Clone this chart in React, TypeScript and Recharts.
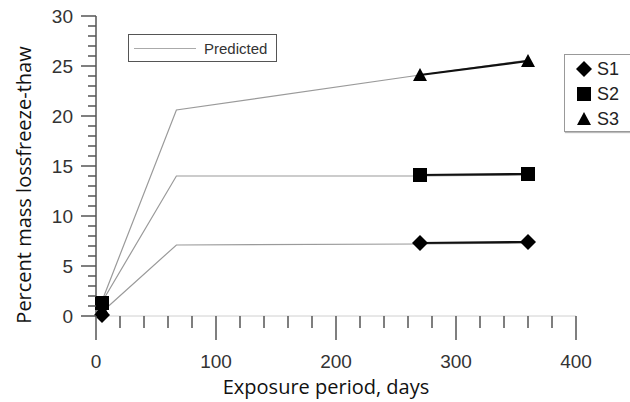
import React from 'react';
import { LineChart, Line, XAxis, YAxis } from 'recharts';

// exposure period (days) for the predicted curves
const predDays = [5, 67, 270, 360];
const predS1 = [0.4, 7.1, 7.2, 7.3];
const predS2 = [1.4, 14.0, 14.0, 14.1];
const predS3 = [1.5, 20.6, 24.1, 25.6];

// measured points
const firstDay = [5];
const lateDays = [270, 360];
const measS1First = [0.1];
const measS2First = [1.3];
const measS3First = [0.7];
const measS1Late = [7.3, 7.4];
const measS2Late = [14.1, 14.2];
const measS3Late = [24.1, 25.5];

const xTicks = [0, 20, 40, 60, 80, 100, 120, 140, 160, 180, 200, 220, 240, 260, 280, 300, 320, 340, 360, 380, 400];
const yTicks = [0, 1, 2, 3, 4, 5, 6, 7, 8, 9, 10, 11, 12, 13, 14, 15, 16, 17, 18, 19, 20, 21, 22, 23, 24, 25, 26, 27, 28, 29, 30];

const seriesNames = ['S1', 'S2', 'S3'];

const toRows = (xs: number[], ys: number[]) => xs.map((d, i) => ({ d, v: ys[i] }));

const tickFont = '"Liberation Sans", Arial, sans-serif';
const labelFont = '"Open Sans", "Noto Sans", sans-serif';

type Shape = 'diamond' | 'square' | 'triangle';

function Marker({ cx, cy, shape }: { cx: number; cy: number; shape: Shape }) {
  if (shape === 'diamond') {
    const r = 8;
    return <polygon points={`${cx},${cy - r} ${cx + r},${cy} ${cx},${cy + r} ${cx - r},${cy}`} fill="#000" />;
  }
  if (shape === 'square') {
    const h = 7;
    return <rect x={cx - h} y={cy - h} width={h * 2} height={h * 2} fill="#000" />;
  }
  return <polygon points={`${cx},${cy - 7} ${cx + 7},${cy + 6} ${cx - 7},${cy + 6}`} fill="#000" />;
}

const makeDot = (shape: Shape) => (props: any) => {
  const { cx, cy, index } = props;
  if (cx == null || cy == null) return <g key={index} />;
  return <Marker key={index} cx={cx} cy={cy} shape={shape} />;
};

const XTick = (props: any) => {
  const { x, y, payload } = props;
  const major = payload.value % 100 === 0;
  return (
    <g>
      <line x1={x} x2={x} y1={y} y2={y + (major ? 24 : 12)} stroke="#555" strokeWidth={1.5} />
      {major && (
        <text x={x} y={y + 45} textAnchor="middle" dominantBaseline="central" fontSize={19} fill="#333" fontFamily={tickFont}>
          {payload.value}
        </text>
      )}
    </g>
  );
};

const YTick = (props: any) => {
  const { x, y, payload } = props;
  const major = payload.value % 5 === 0;
  return (
    <g>
      <line x1={x - (major ? 15 : 8)} x2={x} y1={y} y2={y} stroke="#555" strokeWidth={1.5} />
      {major && (
        <text x={x - 23} y={y} textAnchor="end" dominantBaseline="central" fontSize={19} fill="#333" fontFamily={tickFont}>
          {payload.value}
        </text>
      )}
    </g>
  );
};

export default function App() {
  const preds = [predS1, predS2, predS3];
  const firsts = [measS1First, measS2First, measS3First];
  const lates = [measS1Late, measS2Late, measS3Late];
  const shapes: Shape[] = ['diamond', 'square', 'triangle'];

  return (
    <div style={{ position: 'absolute', left: 0, top: 0, width: 630, height: 402, overflow: 'hidden', background: '#fff' }}>
      <LineChart width={630} height={402} margin={{ top: 16, right: 54, left: 0, bottom: 0 }}>
        <XAxis
          type="number"
          dataKey="d"
          domain={[0, 400]}
          ticks={xTicks}
          interval={0}
          height={86}
          tickSize={0}
          tickMargin={0}
          tickLine={false}
          tick={<XTick />}
          axisLine={{ stroke: '#d0d0d0', strokeWidth: 1 }}
          allowDuplicatedCategory={false}
          label={() => (
            <text x={326} y={386} textAnchor="middle" dominantBaseline="central" fontSize={20} fill="#111" fontFamily={labelFont}>
              Exposure period, days
            </text>
          )}
        />
        <YAxis
          type="number"
          domain={[0, 30]}
          ticks={yTicks}
          interval={0}
          width={96}
          tickSize={0}
          tickMargin={0}
          tickLine={false}
          tick={<YTick />}
          axisLine={{ stroke: '#555', strokeWidth: 1.5 }}
          label={() => (
            <text
              x={23}
              y={185}
              transform="rotate(-90 23 185)"
              textAnchor="middle"
              dominantBaseline="central"
              fontSize={20}
              fill="#111"
              fontFamily={labelFont}
            >
              Percent mass lossfreeze-thaw
            </text>
          )}
        />
        {preds.map((p, i) => (
          <Line
            key={`pred-${i}`}
            data={toRows(predDays, p)}
            dataKey="v"
            type="linear"
            stroke="#9a9a9a"
            strokeWidth={1.2}
            dot={false}
            activeDot={false}
            isAnimationActive={false}
          />
        ))}
        {lates.map((m, i) => (
          <Line
            key={`late-${seriesNames[i]}`}
            data={toRows(lateDays, m)}
            dataKey="v"
            type="linear"
            stroke="#111"
            strokeWidth={2.2}
            dot={makeDot(shapes[i])}
            activeDot={false}
            isAnimationActive={false}
          />
        ))}
        {firsts.map((m, i) => (
          <Line
            key={`first-${seriesNames[i]}`}
            data={toRows(firstDay, m)}
            dataKey="v"
            type="linear"
            stroke="none"
            dot={makeDot(shapes[i])}
            activeDot={false}
            isAnimationActive={false}
          />
        ))}
      </LineChart>

      {/* predicted legend */}
      <div
        style={{
          position: 'absolute',
          left: 128,
          top: 34,
          width: 147,
          height: 26,
          border: '1.5px solid #555',
          boxSizing: 'content-box',
          display: 'flex',
          alignItems: 'center',
          fontFamily: tickFont,
          fontSize: 15,
          color: '#333',
        }}
      >
        <div style={{ width: 62, height: 0, borderTop: '1.5px solid #aaa', marginLeft: 5, marginRight: 8 }} />
        <span>Predicted</span>
      </div>

      {/* series legend */}
      <div
        style={{
          position: 'absolute',
          left: 564,
          top: 54,
          width: 80,
          height: 76,
          border: '1px solid #999',
          boxShadow: '1px 1px 1px #bbb',
          fontFamily: tickFont,
          fontSize: 18,
          color: '#222',
        }}
      >
        {seriesNames.map((name, i) => (
          <div key={name} style={{ position: 'absolute', left: 10, top: 3 + i * 25, height: 22, display: 'flex', alignItems: 'center' }}>
            <svg width={18} height={18}>
              <Marker cx={9} cy={9} shape={shapes[i]} />
            </svg>
            <span style={{ marginLeft: 4 }}>{name}</span>
          </div>
        ))}
      </div>
    </div>
  );
}
